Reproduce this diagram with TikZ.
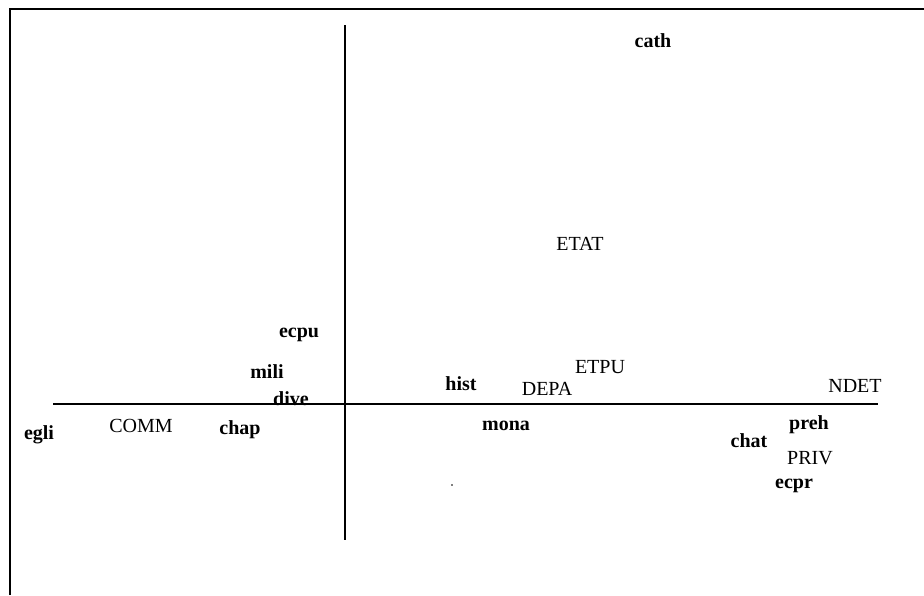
\documentclass[tikz,border=0pt]{standalone}
\usepackage{fontspec}
\setmainfont{Liberation Serif}
\usepackage{tikz}
\usetikzlibrary{calc,positioning}
\tikzset{
  modal/.style={font=\fontsize{20}{24}\selectfont\bfseries, inner sep=0pt, anchor=base},
  var/.style={font=\fontsize{20}{24}\selectfont, inner sep=0pt, anchor=base},
  axe/.style={draw, line width=1.2pt},
  cadre/.style={draw, line width=2pt},
}
\begin{document}
\begin{tikzpicture}[x=1pt,y=-1pt]
    \useasboundingbox (0,0) rectangle (924,595);
    \draw[cadre] (10,595) -- (10,9) -- (924,9);

    % axes
    \coordinate (xg) at (53,404);
    \coordinate (xd) at (878,404);
    \coordinate (yh) at (345,25);
    \coordinate (yb) at (345,540);
    \path[axe] (xg) -- (xd);
    \path[axe] (yh) -- (yb);

    % variables
    \node[var] (etat) at (580,250) {ETAT};
    \node[var] (etpu) at (600,373) {ETPU};
    \node[var] (depa) at (547,395) {DEPA};
    \node[var] (ndet) at (855,392) {NDET};
    \node[var] (comm) at (141,432) {COMM};
    \node[var] (priv) at (810,464) {PRIV};

    % modalites
    \node[modal] (cath) at (653,47) {cath};
    \node[modal] (ecpu) at (299,337) {ecpu};
    \node[modal] (mili) at (267,378) {mili};
    \node[modal] (dive) at (291,405) {dive};
    \node[modal] (hist) at (461,390) {hist};
    \node[modal] (egli) at (39,439) {egli};
    \node[modal] (chap) at (240,434) {chap};
    \node[modal] (mona) at (506,430) {mona};
    \node[modal] (preh) at (809,429) {preh};
    \node[modal] (chat) at (749,447) {chat};
    \node[modal] (ecpr) at (794,488) {ecpr};

    \fill[gray] (451,484) rectangle (453,486);
\end{tikzpicture}
\end{document}
